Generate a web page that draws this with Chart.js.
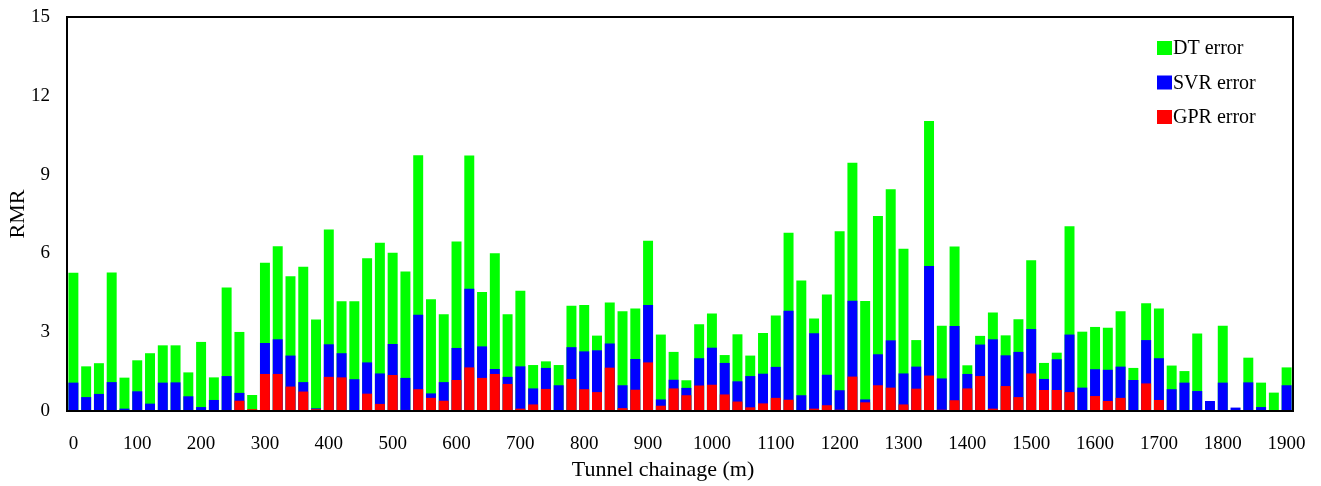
<!DOCTYPE html>
<html>
<head>
<meta charset="utf-8">
<script src="https://cdn.jsdelivr.net/npm/chart.js@4/dist/chart.umd.min.js"></script>
<style>
  html, body { margin: 0; padding: 0; background: #fff; }
  #wrap { width: 1321px; height: 486px; }
</style>
</head>
<body>
<div id="wrap"><canvas id="rmr-chart" width="1321" height="486"></canvas></div>
<script>
// chainage (m), one bar every 20 m
const chainage = [
  0, 20, 40, 60, 80, 100, 120, 140, 160, 180,
  200, 220, 240, 260, 280, 300, 320, 340, 360, 380,
  400, 420, 440, 460, 480, 500, 520, 540, 560, 580,
  600, 620, 640, 660, 680, 700, 720, 740, 760, 780,
  800, 820, 840, 860, 880, 900, 920, 940, 960, 980,
  1000, 1020, 1040, 1060, 1080, 1100, 1120, 1140, 1160, 1180,
  1200, 1220, 1240, 1260, 1280, 1300, 1320, 1340, 1360, 1380,
  1400, 1420, 1440, 1460, 1480, 1500, 1520, 1540, 1560, 1580,
  1600, 1620, 1640, 1660, 1680, 1700, 1720, 1740, 1760, 1780,
  1800, 1820, 1840, 1860, 1880, 1900
];

const dtError = [
  5.26, 1.70, 1.82, 5.27, 1.27, 1.93, 2.20, 2.50, 2.50, 1.47,
  2.63, 1.28, 4.70, 3.01, 0.61, 5.64, 6.27, 5.13, 5.49, 3.48,
  6.91, 4.18, 4.18, 5.82, 6.41, 6.02, 5.31, 9.74, 4.25, 3.68,
  6.45, 9.73, 4.53, 6.01, 3.68, 4.58, 1.75, 1.89, 1.75, 4.01,
  4.04, 2.87, 4.13, 3.80, 3.90, 6.48, 2.91, 2.25, 1.17, 3.30,
  3.71, 2.13, 2.92, 2.11, 2.97, 3.64, 6.79, 4.97, 3.52, 4.44,
  6.84, 9.45, 4.19, 7.42, 8.44, 6.18, 2.70, 11.04, 3.25, 6.26,
  1.74, 2.86, 3.75, 2.88, 3.49, 5.74, 1.83, 2.22, 7.03, 3.02,
  3.20, 3.17, 3.80, 1.64, 4.10, 3.90, 1.73, 1.52, 2.95, 0,
  3.25, 0, 2.03, 1.08, 0.70, 1.66
];

const svrError = [
  1.08, 0.53, 0.65, 1.10, 0.09, 0.75, 0.28, 1.08, 1.09, 0.56,
  0.15, 0.42, 1.33, 0.69, 0.03, 2.59, 2.73, 2.11, 1.10, 0.10,
  2.54, 2.20, 1.21, 1.85, 1.43, 2.55, 1.26, 3.66, 0.67, 1.10,
  2.40, 4.65, 2.46, 1.60, 1.30, 1.70, 0.86, 1.64, 0.98, 2.43,
  2.27, 2.31, 2.57, 0.98, 1.98, 4.04, 0.44, 1.19, 0.88, 2.01,
  2.41, 1.83, 1.13, 1.33, 1.42, 1.68, 3.82, 0.60, 2.96, 1.38,
  0.79, 4.20, 0.44, 2.16, 2.69, 1.43, 1.69, 5.52, 1.24, 3.24,
  1.41, 2.53, 2.73, 2.12, 2.25, 3.12, 1.22, 1.97, 2.91, 0.89,
  1.59, 1.57, 1.69, 1.18, 2.70, 2.01, 0.83, 1.08, 0.76, 0.38,
  1.08, 0.13, 1.09, 0.15, 0.03, 0.98
];

const gprError = [
  0, 0, 0, 0, 0, 0, 0, 0, 0, 0,
  0, 0, 0.03, 0.39, 0.07, 1.41, 1.41, 0.93, 0.74, 0.07,
  1.30, 1.28, 0.03, 0.66, 0.27, 1.37, 0.04, 0.83, 0.50, 0.39,
  1.18, 1.66, 1.26, 1.41, 1.03, 0.09, 0.25, 0.84, 0.02, 1.22,
  0.83, 0.72, 1.65, 0.11, 0.81, 1.85, 0.20, 0.86, 0.60, 0.97,
  1.00, 0.63, 0.36, 0.14, 0.29, 0.50, 0.43, 0.02, 0.09, 0.22,
  0.05, 1.31, 0.33, 0.98, 0.89, 0.25, 0.85, 1.35, 0.05, 0.41,
  0.86, 1.33, 0.09, 0.95, 0.53, 1.43, 0.80, 0.80, 0.72, 0.03,
  0.57, 0.38, 0.50, 0.02, 1.05, 0.42, 0, 0, 0, 0,
  0, 0, 0, 0, 0, 0
];

const yTicks = [0, 3, 6, 9, 12, 15];

const serif = "'Liberation Serif', 'Times New Roman', serif";

// legend drawn inside the plot, top right
const boxLegend = {
  id: "boxLegend",
  afterDraw(chart) {
    const ctx = chart.ctx;
    const items = chart.data.datasets.slice().reverse();
    const x = 1157, y0 = 41, step = 34.5;
    ctx.save();
    ctx.font = "20px " + serif;
    ctx.textBaseline = "middle";
    items.forEach((ds, i) => {
      const y = y0 + i * step;
      ctx.fillStyle = ds.backgroundColor;
      ctx.fillRect(x, y, 15, 14);
      ctx.fillStyle = "#000";
      ctx.fillText(ds.label, x + 16, y + 8);
    });
    ctx.restore();
  }
};

// black frame round the plot area, and the x title (sits a bit left of centre)
const frame = {
  id: "frame",
  afterDraw(chart) {
    const a = chart.chartArea;
    const ctx = chart.ctx;
    ctx.save();
    ctx.strokeStyle = "#000";
    ctx.lineWidth = 2;
    ctx.strokeRect(a.left, a.top, a.right - a.left, a.bottom - a.top);
    ctx.fillStyle = "#000";
    ctx.font = "22px " + serif;
    ctx.textAlign = "center";
    ctx.textBaseline = "middle";
    ctx.fillText("Tunnel chainage (m)", (a.left + a.right) / 2 - 17, 470);
    ctx.restore();
  }
};

new Chart(document.getElementById("rmr-chart"), {
  type: "bar",
  data: {
    labels: chainage,
    datasets: [
      { label: "GPR error", data: gprError, backgroundColor: "#ff0000" },
      { label: "SVR error", data: svrError, backgroundColor: "#0000ff" },
      { label: "DT error", data: dtError, backgroundColor: "#00ff00" }
    ]
  },
  options: {
    responsive: false,
    animation: false,
    layout: { padding: { left: 0, top: 17, right: 28, bottom: 0 } },
    datasets: {
      bar: { grouped: false, barPercentage: 0.78, categoryPercentage: 1.0 }
    },
    plugins: {
      legend: { display: false },
      tooltip: { enabled: false }
    },
    scales: {
      x: {
        offset: true,
        grid: { display: false, drawTicks: false },
        border: { display: false },
        ticks: {
          autoSkip: false,
          maxRotation: 0,
          padding: 22,
          color: "#000",
          font: { family: serif, size: 19 },
          callback: function(value, index) {
            const c = chainage[index];
            return c % 100 === 0 ? String(c) : "";
          }
        },
        afterFit(scale) {
          scale.height = 75;
          scale.paddingLeft = 0;
          scale.paddingRight = 0;
        }
      },
      y: {
        min: 0,
        max: 15,
        afterBuildTicks(scale) { scale.ticks = yTicks.map(v => ({ value: v })); },
        grid: { display: false, drawTicks: false },
        border: { display: false },
        ticks: {
          padding: 17,
          color: "#000",
          font: { family: serif, size: 19 }
        },
        title: {
          display: true,
          text: "RMR",
          color: "#000",
          font: { family: serif, size: 22 },
          padding: { top: 5, bottom: 0 }
        },
        afterFit(scale) {
          scale.width = 67;
          scale.paddingTop = 0;
          scale.paddingBottom = 0;
        }
      }
    }
  },
  plugins: [boxLegend, frame]
});
</script>
</body>
</html>
